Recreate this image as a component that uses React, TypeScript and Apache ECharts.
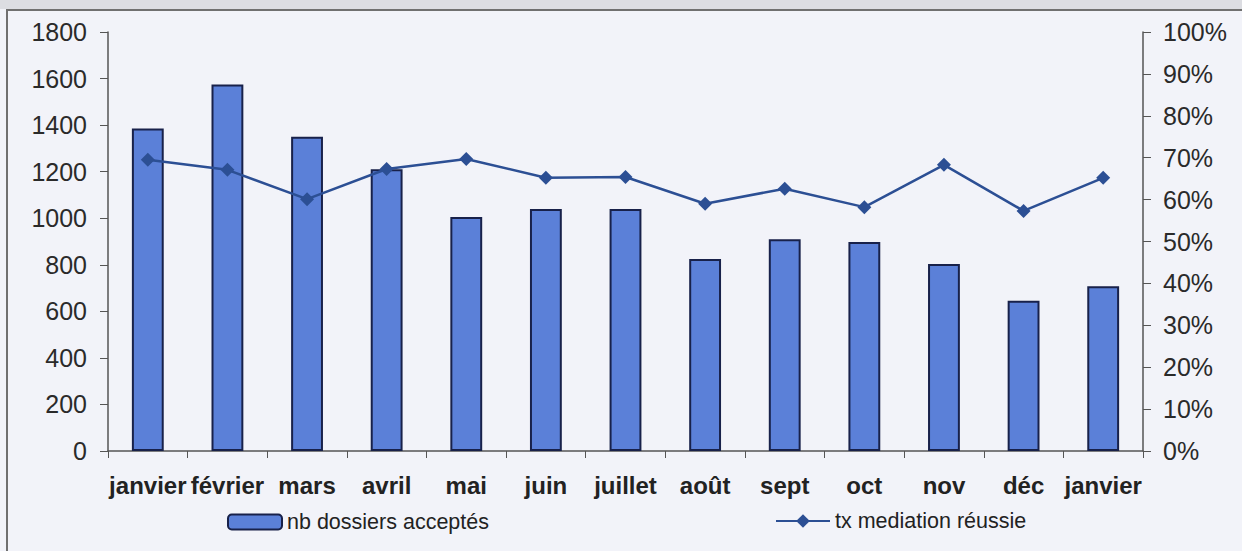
import React, { useEffect, useRef } from "react";
import * as echarts from "echarts";

const categories = ["janvier", "février", "mars", "avril", "mai", "juin", "juillet", "août", "sept", "oct", "nov", "déc", "janvier"];
const dossiersAcceptes = [1385, 1575, 1350, 1210, 1005, 1040, 1040, 825, 910, 898, 803, 646, 708];
const txMediation = [0.695, 0.671, 0.601, 0.673, 0.697, 0.652, 0.654, 0.59, 0.626, 0.582, 0.683, 0.573, 0.652];
const leftTicks = { min: 0, max: 1800, interval: 200 };
const rightTicks = { min: 0, max: 1, interval: 0.1 };
const barName = "nb dossiers acceptés";
const lineName = "tx mediation réussie";

export default function App() {
  const ref = useRef<HTMLDivElement>(null);
  useEffect(() => {
    document.body.style.margin = "0";
    const chart = echarts.init(ref.current!, undefined, { renderer: "svg" });
    const font = "'Liberation Sans', Arial, sans-serif";
    chart.setOption({
      animation: false,
      backgroundColor: "#f2f3f9",
      graphic: [
        { type: "rect", shape: { x: 0, y: 0, width: 1242, height: 9 }, style: { fill: "#dcdde2" }, silent: true },
        { type: "rect", shape: { x: 7, y: 10, width: 1250, height: 560 }, style: { fill: "none", stroke: "#707070", lineWidth: 2 }, silent: true },
      ],
      grid: { left: 108, right: 99, top: 32, bottom: 100, containLabel: false },
      legend: [
        {
          data: [barName],
          left: 222,
          top: 506,
          itemWidth: 54,
          itemHeight: 15,
          textStyle: { fontFamily: font, fontSize: 21.5, color: "#222" },
        },
        {
          data: [lineName],
          left: 770,
          top: 505,
          itemWidth: 54,
          itemHeight: 17,
          textStyle: { fontFamily: font, fontSize: 21.5, color: "#222" },
        },
      ],
      xAxis: {
        type: "category",
        data: categories,
        boundaryGap: true,
        axisLine: { lineStyle: { color: "#555", width: 1.5 } },
        axisTick: { show: true, length: 7, lineStyle: { color: "#555" } },
        axisLabel: { fontFamily: font, fontSize: 24, fontWeight: "bold", color: "#222", margin: 22, interval: 0 },
      },
      yAxis: [
        {
          type: "value",
          min: leftTicks.min,
          max: leftTicks.max,
          interval: leftTicks.interval,
          axisLine: { show: true, lineStyle: { color: "#555", width: 1.5 } },
          axisTick: { show: true, length: 8, lineStyle: { color: "#555" } },
          splitLine: { show: false },
          axisLabel: { fontFamily: font, fontSize: 25, color: "#2a2a2a", margin: 21, formatter: (v: number) => String(v) },
        },
        {
          type: "value",
          position: "right",
          min: rightTicks.min,
          max: rightTicks.max,
          interval: rightTicks.interval,
          axisLine: { show: true, lineStyle: { color: "#555", width: 1.5 } },
          axisTick: { show: true, length: 8, lineStyle: { color: "#555" } },
          splitLine: { show: false },
          axisLabel: {
            fontFamily: font,
            fontSize: 25,
            color: "#2a2a2a",
            margin: 20,
            formatter: (v: number) => Math.round(v * 100) + "%",
          },
        },
      ],
      series: [
        {
          name: barName,
          type: "bar",
          data: dossiersAcceptes,
          barWidth: "40%",
          yAxisIndex: 0,
          itemStyle: { color: "#5b80d8", borderColor: "#18214a", borderWidth: 2 },
        },
        {
          name: lineName,
          type: "line",
          data: txMediation,
          yAxisIndex: 1,
          symbol: "diamond",
          symbolSize: 14,
          lineStyle: { color: "#2c4f94", width: 2.5 },
          itemStyle: { color: "#2c4f94" },
        },
      ],
    });
    return () => chart.dispose();
  }, []);
  return <div ref={ref} style={{ position: "absolute", left: 0, top: 0, width: 1242, height: 551 }} />;
}
